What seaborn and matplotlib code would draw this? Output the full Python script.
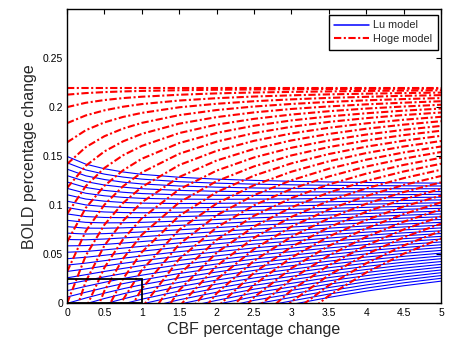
import numpy as np
import pandas as pd
import seaborn as sns
import matplotlib
matplotlib.use("Agg")
import matplotlib.pyplot as plt
from matplotlib.lines import Line2D
from matplotlib.patches import Rectangle

# ---------------- data (BOLD values in units of 0.0001, None = below the axis) ----------------
cbf_change = [0, 0.25, 0.5, 0.75, 1, 1.5, 2, 2.5, 3, 3.5, 4, 4.5, 5]

lu_bold_x1e4 = [
    [1500, 1421, 1374, 1341, 1317, 1287, 1268, 1255, 1246, 1239, 1234, 1230, 1227],
    [1435, 1362, 1319, 1289, 1268, 1242, 1227, 1217, 1210, 1205, 1202, 1200, 1198],
    [1370, 1302, 1264, 1237, 1219, 1198, 1186, 1178, 1174, 1172, 1171, 1170, 1170],
    [1304, 1243, 1208, 1186, 1170, 1153, 1144, 1140, 1138, 1138, 1139, 1140, 1141],
    [1239, 1183, 1153, 1134, 1121, 1108, 1103, 1102, 1102, 1104, 1107, 1110, 1113],
    [1174, 1124, 1098, 1082, 1072, 1064, 1062, 1064, 1066, 1071, 1076, 1080, 1084],
    [1109, 1065, 1043, 1030, 1023, 1019, 1021, 1025, 1031, 1037, 1044, 1050, 1056],
    [1043, 1005, 988, 979, 974, 974, 979, 987, 995, 1003, 1012, 1020, 1027],
    [978, 946, 933, 927, 925, 930, 938, 949, 959, 970, 980, 990, 998],
    [913, 886, 877, 875, 876, 885, 897, 911, 923, 936, 949, 960, 970],
    [848, 827, 822, 823, 827, 840, 856, 872, 887, 902, 917, 930, 941],
    [783, 768, 767, 771, 778, 796, 815, 834, 851, 869, 885, 900, 913],
    [717, 708, 712, 720, 729, 751, 773, 796, 815, 835, 854, 870, 884],
    [652, 649, 657, 668, 680, 707, 732, 758, 779, 802, 822, 840, 856],
    [587, 590, 602, 616, 631, 662, 691, 719, 743, 768, 790, 810, 827],
    [522, 530, 546, 564, 582, 617, 650, 681, 707, 734, 759, 780, 798],
    [456, 471, 491, 513, 533, 573, 608, 643, 671, 701, 727, 750, 770],
    [391, 411, 436, 461, 484, 528, 567, 605, 636, 667, 695, 720, 741],
    [326, 352, 381, 409, 435, 483, 526, 566, 600, 633, 663, 690, 713],
    [261, 293, 326, 357, 386, 439, 485, 528, 564, 600, 632, 660, 684],
    [196, 233, 271, 305, 337, 394, 444, 490, 528, 566, 600, 630, 656],
    [130, 174, 215, 254, 288, 349, 402, 452, 492, 532, 568, 600, 627],
    [65, 114, 160, 202, 239, 305, 361, 413, 456, 499, 537, 570, 598],
    [0, 55, 105, 150, 190, 260, 320, 375, 420, 465, 505, 540, 570],
    [None, -4, 50, 98, 141, 215, 279, 337, 384, 431, 473, 510, 541],
    [None, None, -5, 46, 92, 171, 238, 298, 348, 398, 442, 480, 513],
    [None, None, None, -5, 43, 126, 196, 260, 312, 364, 410, 450, 484],
    [None, None, None, None, -6, 81, 155, 222, 276, 330, 378, 420, 456],
    [None, None, None, None, -55, 37, 114, 184, 241, 297, 346, 390, 427],
    [None, None, None, None, None, -8, 73, 145, 205, 263, 315, 360, 398],
    [None, None, None, None, None, -52, 31, 107, 169, 230, 283, 330, 370],
    [None, None, None, None, None, None, -10, 69, 133, 196, 251, 300, 341],
    [None, None, None, None, None, None, -51, 31, 97, 162, 220, 270, 313],
    [None, None, None, None, None, None, None, -8, 61, 129, 188, 240, 284],
    [None, None, None, None, None, None, None, -46, 25, 95, 156, 210, 256],
    [None, None, None, None, None, None, None, None, -11, 61, 125, 180, 227],
]

hoge_bold_x1e4 = [
    [2200, 2200, 2200, 2200, 2200, 2200, 2200, 2200, 2200, 2200, 2200, 2200, 2200],
    [2130, 2146, 2156, 2163, 2168, 2175, 2180, 2183, 2185, 2187, 2189, 2190, 2191],
    [2003, 2047, 2075, 2095, 2109, 2129, 2143, 2152, 2158, 2163, 2168, 2171, 2174],
    [1839, 1918, 1970, 2007, 2034, 2070, 2094, 2111, 2123, 2133, 2140, 2146, 2151],
    [1643, 1767, 1847, 1903, 1944, 2001, 2037, 2063, 2082, 2097, 2108, 2118, 2125],
    [1422, 1594, 1706, 1784, 1842, 1921, 1973, 2009, 2035, 2056, 2072, 2085, 2095],
    [1178, 1404, 1551, 1654, 1730, 1834, 1901, 1949, 1984, 2010, 2031, 2048, 2063],
    [912, 1196, 1382, 1512, 1607, 1738, 1824, 1883, 1927, 1961, 1988, 2009, 2027],
    [626, 974, 1200, 1359, 1476, 1636, 1740, 1813, 1867, 1908, 1940, 1967, 1988],
    [322, 737, 1007, 1196, 1336, 1527, 1651, 1738, 1802, 1852, 1890, 1922, 1948],
    [0, 487, 803, 1025, 1188, 1412, 1557, 1659, 1734, 1792, 1837, 1874, 1904],
    [-338, 223, 591, 844, 1032, 1290, 1458, 1576, 1663, 1729, 1782, 1824, 1859],
    [None, -52, 366, 655, 869, 1164, 1355, 1489, 1588, 1663, 1723, 1771, 1811],
    [None, -340, 129, 458, 700, 1031, 1247, 1398, 1510, 1595, 1662, 1717, 1762],
    [None, None, -114, 253, 523, 894, 1135, 1304, 1429, 1524, 1599, 1660, 1710],
    [None, None, -366, 40, 340, 752, 1019, 1206, 1344, 1450, 1534, 1601, 1657],
    [None, None, None, -179, 151, 604, 899, 1105, 1257, 1374, 1466, 1540, 1601],
    [None, None, None, None, -44, 453, 775, 1001, 1168, 1295, 1396, 1477, 1545],
    [None, None, None, None, -244, 296, 648, 894, 1075, 1214, 1324, 1413, 1486],
    [None, None, None, None, -451, 135, 517, 784, 980, 1131, 1250, 1346, 1425],
    [None, None, None, None, None, -30, 382, 670, 883, 1046, 1174, 1278, 1364],
    [None, None, None, None, None, -199, 244, 554, 783, 958, 1096, 1208, 1300],
    [None, None, None, None, None, -373, 103, 435, 680, 868, 1016, 1136, 1235],
    [None, None, None, None, None, None, -42, 313, 576, 776, 935, 1063, 1168],
    [None, None, None, None, None, None, -190, 189, 468, 682, 851, 988, 1100],
    [None, None, None, None, None, None, -341, 62, 359, 587, 766, 911, 1031],
    [None, None, None, None, None, None, None, -67, 248, 489, 679, 833, 960],
    [None, None, None, None, None, None, None, -199, 134, 389, 591, 754, 888],
    [None, None, None, None, None, None, None, -334, 18, 288, 501, 673, 814],
    [None, None, None, None, None, None, None, None, -100, 184, 409, 590, 740],
    [None, None, None, None, None, None, None, None, -220, 79, 315, 506, 663],
]

x_ticks = [0, 0.5, 1, 1.5, 2, 2.5, 3, 3.5, 4, 4.5, 5]
x_tick_labels = ["0", "0.5", "1", "1.5", "2", "2.5", "3", "3.5", "4", "4.5", "5"]
y_ticks = [0, 0.05, 0.1, 0.15, 0.2, 0.25]
y_tick_labels = ["0", "0.05", "0.1", "0.15", "0.2", "0.25"]
legend_labels = ["Lu model", "Hoge model"]
zoom_box = (0, 0, 1, 0.025)  # x0, y0, width, height of the black frame


def to_long(table):
    rows = []
    for cid, curve in enumerate(table):
        for xv, yv in zip(cbf_change, curve):
            if yv is not None:
                rows.append((cid, xv, yv * 1e-4))
    return pd.DataFrame(rows, columns=["curve", "cbf", "bold"])


lu_df = to_long(lu_bold_x1e4)
hoge_df = to_long(hoge_bold_x1e4)

# ---------------- plot ----------------
sns.set_theme(style="white")
plt.rcParams["font.family"] = ["Liberation Sans", "DejaVu Sans"]

DASHDOT = (0, (3.5, 1.2, 1.0, 1.2))

fig = plt.figure(figsize=(4.5, 3.39), dpi=100)
ax = fig.add_axes([0.149, 0.105, 0.831, 0.8673])

sns.lineplot(data=lu_df, x="cbf", y="bold", units="curve", estimator=None,
             color="blue", lw=0.8, ax=ax, legend=False)
sns.lineplot(data=hoge_df, x="cbf", y="bold", units="curve", estimator=None,
             color="red", lw=1.5, linestyle=DASHDOT, ax=ax, legend=False)

ax.add_patch(Rectangle(zoom_box[:2], zoom_box[2], zoom_box[3], fill=False,
                       ec="black", lw=1.3, zorder=5))

ax.set_xlim(0, 5)
ax.set_ylim(0, 0.3)
ax.set_xticks(x_ticks)
ax.set_xticklabels(x_tick_labels)
ax.set_yticks(y_ticks)
ax.set_yticklabels(y_tick_labels)
ax.tick_params(direction="in", length=3.5, width=0.8, labelsize=7.5,
               top=True, right=True, colors="black", pad=3)
for sp in ax.spines.values():
    sp.set_color("black")
    sp.set_linewidth(1.0)
ax.set_xlabel("CBF percentage change", fontsize=11.5, labelpad=3.5)
ax.set_ylabel("BOLD percentage change", fontsize=11.5, labelpad=4)

handles = [Line2D([], [], color="#0000ff", lw=1.1),
           Line2D([], [], color="#ff0000", lw=1.5, linestyle=DASHDOT)]
leg = ax.legend(handles, legend_labels, loc="upper right",
                bbox_to_anchor=(437.5 / 450, 1 - 15 / 339),
                bbox_transform=fig.transFigure, borderaxespad=0,
                fontsize=7.8, frameon=True, fancybox=False, edgecolor="black",
                handlelength=3.2, handletextpad=0.4, borderpad=0.5,
                labelspacing=0.35, framealpha=1)
leg.get_frame().set_linewidth(1.0)

fig.savefig("out.png", dpi=100)
